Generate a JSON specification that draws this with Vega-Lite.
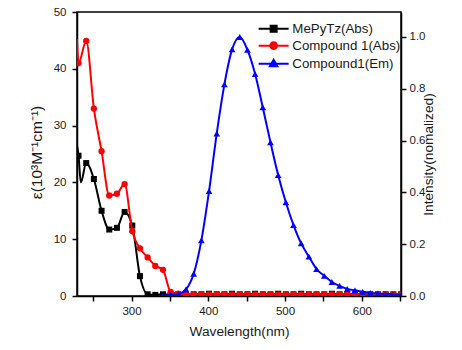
{
  "$schema": "https://vega.github.io/schema/vega-lite/v6.json",
  "width": 324,
  "height": 284,
  "autosize": {"type": "none"},
  "padding": {"left": 77, "top": 12, "right": 61, "bottom": 54},
  "background": "white",
  "config": {
    "font": "Liberation Sans",
    "view": {"stroke": "#000000", "strokeWidth": 1.5},
    "axis": {
      "grid": false,
      "domainColor": "#000000",
      "domainWidth": 1.5,
      "tickColor": "#000000",
      "tickWidth": 1.5,
      "tickSize": 5,
      "labelFont": "Liberation Sans",
      "labelFontSize": 11.5,
      "labelColor": "#1a1a1a",
      "titleFont": "Liberation Sans",
      "titleFontSize": 13.7,
      "titleFontWeight": "normal",
      "titleColor": "#1a1a1a"
    }
  },
  "datasets": {
    "abs": [
      {"series": "MePyTz(Abs)", "wl": 229, "v": 26.5, "m": false},
      {"series": "MePyTz(Abs)", "wl": 231, "v": 24.7, "m": true},
      {"series": "MePyTz(Abs)", "wl": 234, "v": 20.0, "m": false},
      {"series": "MePyTz(Abs)", "wl": 241, "v": 23.4, "m": true},
      {"series": "MePyTz(Abs)", "wl": 251, "v": 20.6, "m": true},
      {"series": "MePyTz(Abs)", "wl": 261, "v": 15.0, "m": true},
      {"series": "MePyTz(Abs)", "wl": 271, "v": 11.7, "m": true},
      {"series": "MePyTz(Abs)", "wl": 281, "v": 12.0, "m": true},
      {"series": "MePyTz(Abs)", "wl": 291, "v": 14.8, "m": true},
      {"series": "MePyTz(Abs)", "wl": 301, "v": 12.4, "m": true},
      {"series": "MePyTz(Abs)", "wl": 311, "v": 3.5, "m": true},
      {"series": "MePyTz(Abs)", "wl": 321, "v": 0.3, "m": true},
      {"series": "MePyTz(Abs)", "wl": 331, "v": 0.2, "m": true},
      {"series": "MePyTz(Abs)", "wl": 341, "v": 0.3, "m": true},
      {"series": "MePyTz(Abs)", "wl": 351, "v": 0.2, "m": true},
      {"series": "MePyTz(Abs)", "wl": 361, "v": 0.3, "m": true},
      {"series": "MePyTz(Abs)", "wl": 371, "v": 0.2, "m": true},
      {"series": "MePyTz(Abs)", "wl": 381, "v": 0.3, "m": true},
      {"series": "MePyTz(Abs)", "wl": 391, "v": 0.3, "m": true},
      {"series": "MePyTz(Abs)", "wl": 401, "v": 0.4, "m": true},
      {"series": "MePyTz(Abs)", "wl": 411, "v": 0.3, "m": true},
      {"series": "MePyTz(Abs)", "wl": 421, "v": 0.3, "m": true},
      {"series": "MePyTz(Abs)", "wl": 431, "v": 0.4, "m": true},
      {"series": "MePyTz(Abs)", "wl": 441, "v": 0.3, "m": true},
      {"series": "MePyTz(Abs)", "wl": 451, "v": 0.3, "m": true},
      {"series": "MePyTz(Abs)", "wl": 461, "v": 0.4, "m": true},
      {"series": "MePyTz(Abs)", "wl": 471, "v": 0.3, "m": true},
      {"series": "MePyTz(Abs)", "wl": 481, "v": 0.3, "m": true},
      {"series": "MePyTz(Abs)", "wl": 491, "v": 0.4, "m": true},
      {"series": "MePyTz(Abs)", "wl": 501, "v": 0.3, "m": true},
      {"series": "MePyTz(Abs)", "wl": 511, "v": 0.3, "m": true},
      {"series": "MePyTz(Abs)", "wl": 521, "v": 0.4, "m": true},
      {"series": "MePyTz(Abs)", "wl": 531, "v": 0.3, "m": true},
      {"series": "MePyTz(Abs)", "wl": 541, "v": 0.3, "m": true},
      {"series": "MePyTz(Abs)", "wl": 551, "v": 0.3, "m": true},
      {"series": "MePyTz(Abs)", "wl": 561, "v": 0.4, "m": true},
      {"series": "MePyTz(Abs)", "wl": 571, "v": 0.3, "m": true},
      {"series": "MePyTz(Abs)", "wl": 581, "v": 0.3, "m": true},
      {"series": "MePyTz(Abs)", "wl": 591, "v": 0.3, "m": true},
      {"series": "MePyTz(Abs)", "wl": 601, "v": 0.3, "m": true},
      {"series": "MePyTz(Abs)", "wl": 611, "v": 0.3, "m": true},
      {"series": "MePyTz(Abs)", "wl": 621, "v": 0.3, "m": true},
      {"series": "MePyTz(Abs)", "wl": 631, "v": 0.3, "m": true},
      {"series": "MePyTz(Abs)", "wl": 641, "v": 0.3, "m": true},
      {"series": "MePyTz(Abs)", "wl": 651, "v": 0.3, "m": true},
      {"series": "Compound 1(Abs)", "wl": 229, "v": 45.2, "m": false},
      {"series": "Compound 1(Abs)", "wl": 231, "v": 41.0, "m": true},
      {"series": "Compound 1(Abs)", "wl": 241, "v": 44.9, "m": true},
      {"series": "Compound 1(Abs)", "wl": 251, "v": 33.0, "m": true},
      {"series": "Compound 1(Abs)", "wl": 261, "v": 25.5, "m": true},
      {"series": "Compound 1(Abs)", "wl": 271, "v": 17.7, "m": true},
      {"series": "Compound 1(Abs)", "wl": 281, "v": 18.0, "m": true},
      {"series": "Compound 1(Abs)", "wl": 291, "v": 19.7, "m": true},
      {"series": "Compound 1(Abs)", "wl": 301, "v": 11.4, "m": true},
      {"series": "Compound 1(Abs)", "wl": 311, "v": 8.4, "m": true},
      {"series": "Compound 1(Abs)", "wl": 321, "v": 6.8, "m": true},
      {"series": "Compound 1(Abs)", "wl": 331, "v": 5.3, "m": true},
      {"series": "Compound 1(Abs)", "wl": 341, "v": 4.6, "m": true},
      {"series": "Compound 1(Abs)", "wl": 351, "v": 0.7, "m": true},
      {"series": "Compound 1(Abs)", "wl": 361, "v": 0.4, "m": true},
      {"series": "Compound 1(Abs)", "wl": 371, "v": 0.3, "m": true},
      {"series": "Compound 1(Abs)", "wl": 381, "v": 0.3, "m": true},
      {"series": "Compound 1(Abs)", "wl": 391, "v": 0.3, "m": true},
      {"series": "Compound 1(Abs)", "wl": 401, "v": 0.3, "m": true},
      {"series": "Compound 1(Abs)", "wl": 411, "v": 0.3, "m": true},
      {"series": "Compound 1(Abs)", "wl": 421, "v": 0.3, "m": true},
      {"series": "Compound 1(Abs)", "wl": 431, "v": 0.3, "m": true},
      {"series": "Compound 1(Abs)", "wl": 441, "v": 0.3, "m": true},
      {"series": "Compound 1(Abs)", "wl": 451, "v": 0.3, "m": true},
      {"series": "Compound 1(Abs)", "wl": 461, "v": 0.3, "m": true},
      {"series": "Compound 1(Abs)", "wl": 471, "v": 0.3, "m": true},
      {"series": "Compound 1(Abs)", "wl": 481, "v": 0.3, "m": true},
      {"series": "Compound 1(Abs)", "wl": 491, "v": 0.3, "m": true},
      {"series": "Compound 1(Abs)", "wl": 501, "v": 0.3, "m": true},
      {"series": "Compound 1(Abs)", "wl": 511, "v": 0.3, "m": true},
      {"series": "Compound 1(Abs)", "wl": 521, "v": 0.3, "m": true},
      {"series": "Compound 1(Abs)", "wl": 531, "v": 0.3, "m": true},
      {"series": "Compound 1(Abs)", "wl": 541, "v": 0.3, "m": true},
      {"series": "Compound 1(Abs)", "wl": 551, "v": 0.3, "m": true},
      {"series": "Compound 1(Abs)", "wl": 561, "v": 0.3, "m": true},
      {"series": "Compound 1(Abs)", "wl": 571, "v": 0.3, "m": true},
      {"series": "Compound 1(Abs)", "wl": 581, "v": 0.3, "m": true},
      {"series": "Compound 1(Abs)", "wl": 591, "v": 0.3, "m": true},
      {"series": "Compound 1(Abs)", "wl": 601, "v": 0.3, "m": true},
      {"series": "Compound 1(Abs)", "wl": 611, "v": 0.3, "m": true},
      {"series": "Compound 1(Abs)", "wl": 621, "v": 0.3, "m": true},
      {"series": "Compound 1(Abs)", "wl": 631, "v": 0.3, "m": true},
      {"series": "Compound 1(Abs)", "wl": 641, "v": 0.3, "m": true},
      {"series": "Compound 1(Abs)", "wl": 651, "v": 0.3, "m": true}
    ],
    "em": [
      {"series": "Compound1(Em)", "wl": 341, "v": 0.0},
      {"series": "Compound1(Em)", "wl": 351, "v": 0.005},
      {"series": "Compound1(Em)", "wl": 361, "v": 0.008},
      {"series": "Compound1(Em)", "wl": 371, "v": 0.026},
      {"series": "Compound1(Em)", "wl": 381, "v": 0.086},
      {"series": "Compound1(Em)", "wl": 391, "v": 0.215},
      {"series": "Compound1(Em)", "wl": 401, "v": 0.405},
      {"series": "Compound1(Em)", "wl": 411, "v": 0.627},
      {"series": "Compound1(Em)", "wl": 421, "v": 0.817},
      {"series": "Compound1(Em)", "wl": 431, "v": 0.952},
      {"series": "Compound1(Em)", "wl": 441, "v": 1.0},
      {"series": "Compound1(Em)", "wl": 451, "v": 0.95},
      {"series": "Compound1(Em)", "wl": 461, "v": 0.857},
      {"series": "Compound1(Em)", "wl": 471, "v": 0.728},
      {"series": "Compound1(Em)", "wl": 481, "v": 0.593},
      {"series": "Compound1(Em)", "wl": 491, "v": 0.467},
      {"series": "Compound1(Em)", "wl": 501, "v": 0.362},
      {"series": "Compound1(Em)", "wl": 511, "v": 0.274},
      {"series": "Compound1(Em)", "wl": 521, "v": 0.203},
      {"series": "Compound1(Em)", "wl": 531, "v": 0.152},
      {"series": "Compound1(Em)", "wl": 541, "v": 0.104},
      {"series": "Compound1(Em)", "wl": 551, "v": 0.078},
      {"series": "Compound1(Em)", "wl": 561, "v": 0.054},
      {"series": "Compound1(Em)", "wl": 571, "v": 0.039},
      {"series": "Compound1(Em)", "wl": 581, "v": 0.027},
      {"series": "Compound1(Em)", "wl": 591, "v": 0.022},
      {"series": "Compound1(Em)", "wl": 601, "v": 0.016},
      {"series": "Compound1(Em)", "wl": 611, "v": 0.012},
      {"series": "Compound1(Em)", "wl": 621, "v": 0.01},
      {"series": "Compound1(Em)", "wl": 631, "v": 0.008},
      {"series": "Compound1(Em)", "wl": 641, "v": 0.006},
      {"series": "Compound1(Em)", "wl": 651, "v": 0.005}
    ]
  },
  "encoding": {
    "x": {
      "field": "wl",
      "type": "quantitative",
      "scale": {"domain": [229, 651], "nice": false, "zero": false},
      "axis": {
        "title": "Wavelength(nm)",
        "values": [250, 300, 350, 400, 450, 500, 550, 600, 650],
        "labelExpr": "datum.value % 100 === 0 ? datum.label : ''",
        "labelPadding": 4,
        "titlePadding": 8
      }
    },
    "color": {
      "field": "series",
      "type": "nominal",
      "scale": {
        "domain": ["MePyTz(Abs)", "Compound 1(Abs)", "Compound1(Em)"],
        "range": ["#000000", "#ff0000", "#0000ff"]
      },
      "legend": {
        "orient": "none",
        "legendX": 190,
        "legendY": 10,
        "title": null,
        "padding": 0,
        "labelFont": "Liberation Sans",
        "labelFontSize": 13.3,
        "labelColor": "#1a1a1a",
        "labelOffset": 12,
        "symbolSize": 100,
        "symbolStrokeWidth": 2,
        "symbolOpacity": 1,
        "rowPadding": 2,
        "encode": {
          "symbols": {
            "update": {
              "shape": {"signal": "datum.value === 'MePyTz(Abs)' ? 'M-3,0H3M-0.6,-0.6H0.6V0.6H-0.6Z' : (datum.value === 'Compound 1(Abs)' ? 'M-3,0H3M0.66,0A0.66,0.66,0,1,1,-0.66,0A0.66,0.66,0,1,1,0.66,0Z' : 'M-3,0H3M0,-0.8L0.75,0.5H-0.75Z')"},
              "fill": {"signal": "datum.value === 'MePyTz(Abs)' ? '#000000' : (datum.value === 'Compound 1(Abs)' ? '#ff0000' : '#0000ff')"},
              "stroke": {"signal": "datum.value === 'MePyTz(Abs)' ? '#000000' : (datum.value === 'Compound 1(Abs)' ? '#ff0000' : '#0000ff')"},
              "opacity": {"value": 1}
            }
          }
        }
      }
    }
  },
  "layer": [
    {
      "data": {"name": "abs"},
      "encoding": {
        "y": {
          "field": "v",
          "type": "quantitative",
          "scale": {"domain": [0, 50], "nice": false},
          "axis": {
            "orient": "left",
            "title": "ε(10³M⁻¹cm⁻¹)",
            "titleFontSize": 15.5,
            "titleAlign": "center",
            "titleY": 140,
            "values": [0, 10, 20, 30, 40, 50],
            "labelPadding": 6,
            "titlePadding": 9
          }
        }
      },
      "layer": [
        {
          "transform": [{"filter": "datum.series === 'MePyTz(Abs)'"}],
          "mark": {"type": "line", "interpolate": "monotone", "strokeWidth": 2, "clip": true}
        },
        {
          "transform": [{"filter": "datum.series === 'MePyTz(Abs)' && datum.m"}],
          "mark": {"type": "point", "shape": "square", "filled": true, "size": 36, "opacity": 1, "clip": true}
        },
        {
          "transform": [{"filter": "datum.series === 'Compound 1(Abs)'"}],
          "mark": {"type": "line", "interpolate": "monotone", "strokeWidth": 2, "clip": true}
        },
        {
          "transform": [{"filter": "datum.series === 'Compound 1(Abs)' && datum.m"}],
          "mark": {"type": "point", "shape": "circle", "filled": true, "size": 40, "opacity": 1, "clip": true}
        }
      ]
    },
    {
      "data": {"name": "em"},
      "encoding": {
        "y": {
          "field": "v",
          "type": "quantitative",
          "scale": {"domain": [0, 1.0965], "nice": false},
          "axis": {
            "orient": "right",
            "title": "Intensity(nomalized)",
            "titleAngle": -90,
            "values": [0, 0.2, 0.4, 0.6, 0.8, 1.0],
            "format": ".1f",
            "labelPadding": 3,
            "titlePadding": 11
          }
        }
      },
      "layer": [
        {
          "mark": {"type": "line", "interpolate": "monotone", "strokeWidth": 2, "clip": true}
        },
        {
          "mark": {"type": "point", "shape": "triangle-up", "filled": true, "size": 45, "opacity": 1, "clip": true}
        }
      ]
    }
  ],
  "resolve": {"scale": {"y": "independent"}}
}
